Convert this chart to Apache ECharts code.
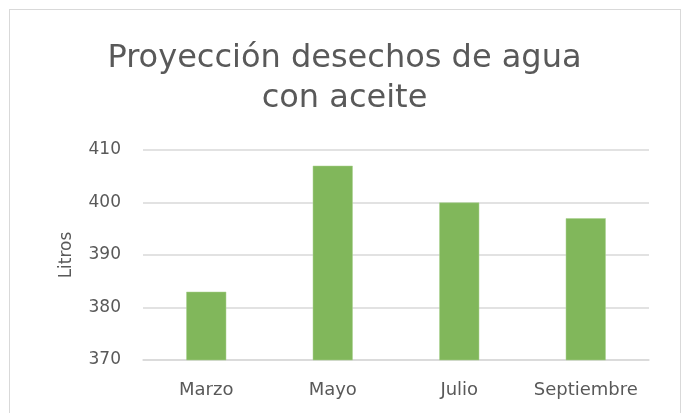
<!DOCTYPE html>
<html>
<head>
<meta charset="utf-8">
<script src="https://cdn.jsdelivr.net/npm/echarts@6/dist/echarts.min.js"></script>
<style>
  html, body { margin: 0; padding: 0; background: #ffffff; }
  #frame { position: absolute; left: 9px; top: 9px; width: 672px; height: 410px; border: 1px solid #d9d9d9; box-sizing: border-box; }
  #chart { width: 689px; height: 413px; position: absolute; left: 0; top: 0; }
</style>
</head>
<body>
<div id="frame"></div>
<div id="chart"></div>
<script>
const months = ['Marzo', 'Mayo', 'Julio', 'Septiembre'];
const litros = [383, 407, 400, 397];
const titleText = 'Proyección desechos de agua\ncon aceite';
const axisName = 'Litros';

const chart = echarts.init(document.getElementById('chart'));
const font = '"DejaVu Sans", "Noto Sans", sans-serif';

chart.setOption({
  animation: false,
  title: {
    text: titleText,
    left: 'center',
    top: 34,
    textStyle: {
      color: '#595959',
      fontFamily: font,
      fontSize: 32,
      fontWeight: 'normal',
      lineHeight: 40,
    },
  },
  grid: {
    left: 143,
    right: 40,
    top: 150,
    bottom: 53,
  },
  xAxis: {
    type: 'category',
    data: months,
    axisLine: { lineStyle: { color: '#d9d9d9', width: 1.5 } },
    axisTick: { show: false },
    axisLabel: {
      interval: 0,
      color: '#595959',
      fontFamily: font,
      fontSize: 18,
      margin: 21,
    },
  },
  yAxis: {
    type: 'value',
    min: 370,
    max: 410,
    interval: 10,
    name: axisName,
    nameLocation: 'middle',
    nameGap: 68,
    nameTextStyle: {
      color: '#595959',
      fontFamily: font,
      fontSize: 17,
    },
    axisLine: { show: false },
    axisTick: { show: false },
    axisLabel: {
      color: '#595959',
      fontFamily: font,
      fontSize: 17,
      margin: 22,
      padding: [7, 0, 0, 0],
    },
    splitLine: { lineStyle: { color: '#d9d9d9', width: 1.5 } },
  },
  series: [
    {
      type: 'bar',
      data: litros,
      barWidth: '31.6%',
      itemStyle: {
        color: '#81b75b',
        borderColor: '#a9d08e',
        borderWidth: 0.5,
      },
    },
  ],
});
</script>
</body>
</html>
